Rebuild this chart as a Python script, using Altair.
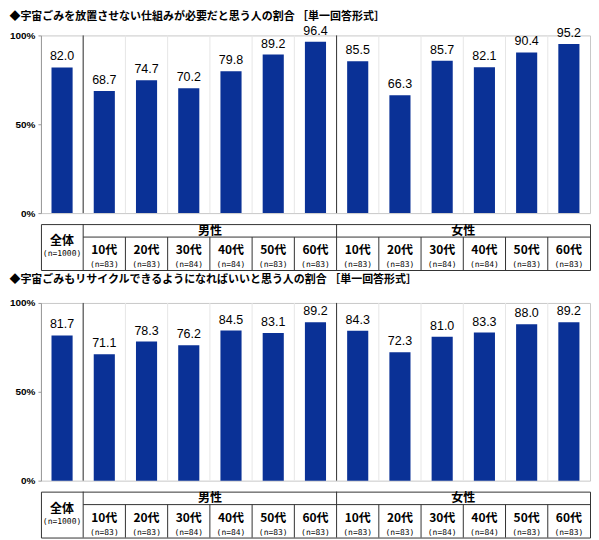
import altair as alt
import pandas as pd

# Data
ages = ["全体", "10代", "20代", "30代", "40代", "50代", "60代",
        "10代", "20代", "30代", "40代", "50代", "60代"]
n_labels = ["(n=1000)", "(n=83)", "(n=83)", "(n=84)", "(n=84)", "(n=83)", "(n=83)",
            "(n=83)", "(n=83)", "(n=84)", "(n=84)", "(n=83)", "(n=83)"]
sexes = ["男性", "女性"]
values_1 = [82.0, 68.7, 74.7, 70.2, 79.8, 89.2, 96.4, 85.5, 66.3, 85.7, 82.1, 90.4, 95.2]
values_2 = [81.7, 71.1, 78.3, 76.2, 84.5, 83.1, 89.2, 84.3, 72.3, 81.0, 83.3, 88.0, 89.2]
title_1 = "◆宇宙ごみを放置させない仕組みが必要だと思う人の割合 ［単一回答形式］"
title_2 = "◆宇宙ごみもリサイクルできるようになればいいと思う人の割合 ［単一回答形式］"

BLUE = "#0a3196"
JP = "Noto Sans CJK JP"
NUM = "Liberation Sans"
MONO = "DejaVu Sans Mono"
N = len(ages)
W = 550
H = 178
TH = 46


def block(values, title, title_offset):
    df = pd.DataFrame({"i": range(N), "age": ages, "n": n_labels, "value": values})
    df["left"] = df["i"] + 0.25
    df["right"] = df["i"] + 0.75
    df["mid"] = df["i"] + 0.5
    df["age_y"] = [17 if i == 0 else 26 for i in df["i"]]
    df["n_y"] = [30 if i == 0 else 41 for i in df["i"]]

    x_scale = alt.Scale(domain=[0, N], nice=False, zero=False)
    y_scale = alt.Scale(domain=[0, 100], nice=False)

    bounds = pd.DataFrame({"b": range(1, N)})
    seps = pd.DataFrame({"b": [1, 7]})

    grid = alt.Chart(bounds).mark_rule(color="#e6e6e6", strokeWidth=1).encode(
        x=alt.X("b:Q", scale=x_scale, axis=None))
    sep = alt.Chart(seps).mark_rule(color="#333333", strokeWidth=1).encode(
        x=alt.X("b:Q", scale=x_scale, axis=None))
    bars = alt.Chart(df).mark_bar(color=BLUE).encode(
        x=alt.X("left:Q", scale=x_scale, axis=None),
        x2="right:Q",
        y=alt.Y("value:Q", scale=y_scale,
                axis=alt.Axis(values=[0, 50, 100], labelExpr="datum.value + '%'",
                              grid=False, title=None, tickSize=3, labelPadding=3,
                              domainColor="#999999", tickColor="#999999",
                              labelFont=NUM, labelFontSize=10, labelFontWeight="bold",
                              labelColor="#000000")),
        y2=alt.datum(0))
    labels = alt.Chart(df).mark_text(dy=-11, font=NUM, fontSize=12.5, color="#000000").encode(
        x=alt.X("mid:Q", scale=x_scale, axis=None),
        y=alt.Y("value:Q", scale=y_scale),
        text=alt.Text("value:Q", format=".1f"))

    # the title sits above the group's bounds, which grow when a value label pokes out
    plot = alt.layer(grid, sep, bars, labels).properties(
        width=W, height=H,
        title=alt.TitleParams(title, anchor="start", font=JP, fontSize=11,
                              fontWeight="bold", color="#000000", offset=title_offset),
        view=alt.ViewBackground(stroke="#c8c8c8"))

    # table under the plot
    t_y = alt.Scale(domain=[0, TH], reverse=True, nice=False, zero=False)
    sex_df = pd.DataFrame({"sex": sexes, "mid": [1 + 3, 7 + 3], "y": [6.5, 6.5]})
    hline = pd.DataFrame({"x": [1], "x2": [N], "y": [13]})
    vlines = pd.DataFrame({"x": list(range(1, N)),
                           "y": [0 if b in (1, 7) else 13 for b in range(1, N)],
                           "y2": [TH] * (N - 1)})

    age_text = alt.Chart(df).mark_text(font=JP, fontSize=12, fontWeight="bold", color="#000000").encode(
        x=alt.X("mid:Q", scale=x_scale, axis=None),
        y=alt.Y("age_y:Q", scale=t_y, axis=None),
        text="age:N")
    n_text = alt.Chart(df).mark_text(font=MONO, fontSize=8, color="#000000").encode(
        x=alt.X("mid:Q", scale=x_scale, axis=None),
        y=alt.Y("n_y:Q", scale=t_y, axis=None),
        text="n:N")
    sex_text = alt.Chart(sex_df).mark_text(font=JP, fontSize=12, fontWeight="bold", color="#000000").encode(
        x=alt.X("mid:Q", scale=x_scale, axis=None),
        y=alt.Y("y:Q", scale=t_y, axis=None),
        text="sex:N")
    h_rule = alt.Chart(hline).mark_rule(color="#333333").encode(
        x=alt.X("x:Q", scale=x_scale, axis=None), x2="x2:Q",
        y=alt.Y("y:Q", scale=t_y, axis=None))
    v_rule = alt.Chart(vlines).mark_rule(color="#333333").encode(
        x=alt.X("x:Q", scale=x_scale, axis=None),
        y=alt.Y("y:Q", scale=t_y, axis=None), y2="y2:Q")

    table = alt.layer(h_rule, v_rule, age_text, n_text, sex_text).properties(
        width=W, height=TH,
        view=alt.ViewBackground(stroke="#333333"))

    return alt.vconcat(plot, table, spacing=4)


chart = alt.vconcat(block(values_1, title_1, 3), block(values_2, title_2, 13), spacing=2).properties(
    padding={"top": 1, "left": 0, "right": 0, "bottom": 0}, background="#ffffff")

chart.save("out.html", embed_options={"renderer": "svg", "actions": False})
